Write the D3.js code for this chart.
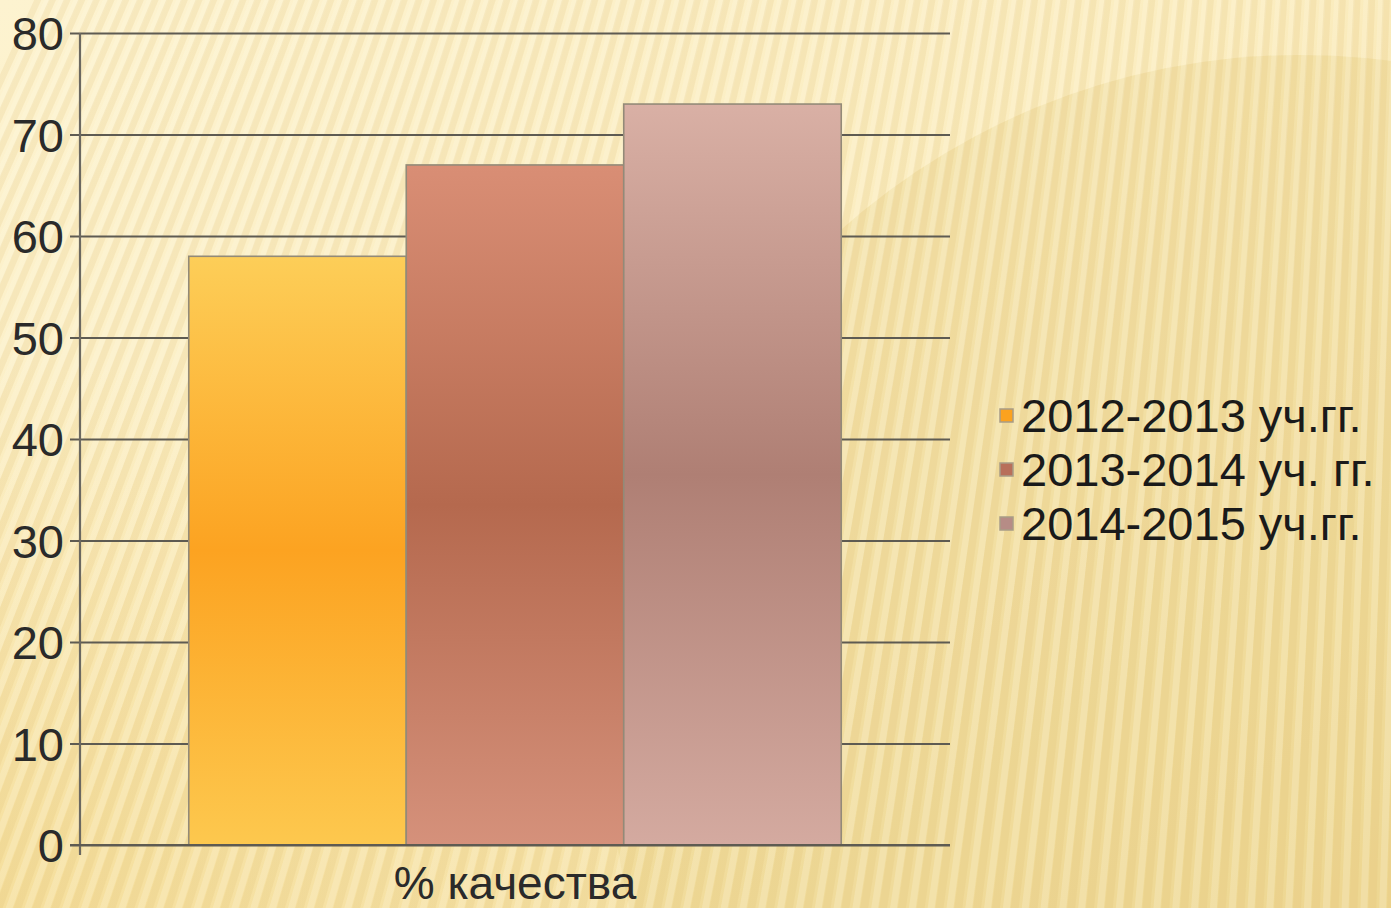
<!DOCTYPE html>
<html><head><meta charset="utf-8">
<script src="https://cdn.jsdelivr.net/npm/d3@7"></script>
<style>html,body{margin:0;padding:0;overflow:hidden;background:#FCEFC6}</style>
</head><body>
<svg id="chart" width="1391" height="908"></svg>
<script>
const categories = ["% качества"];
const seriesNames = ["2012-2013 уч.гг.", "2013-2014 уч. гг.", "2014-2015 уч.гг."];
const seriesValues = [58, 67, 73];
const yTicks = [0, 10, 20, 30, 40, 50, 60, 70, 80];
const seriesColors = [
  ["#FDCE58", "#FCA321", "#FDC84E"],
  ["#D98E75", "#B5694E", "#D5917B"],
  ["#D9B0A5", "#AF7F74", "#D4AAA0"]
];
const legendColors = ["#FBA21F", "#B86F5A", "#B68C86"];

const W = 1391, H = 908;
const svg = d3.select("#chart");
const defs = svg.append("defs");

const bg = defs.append("linearGradient").attr("id","bg").attr("x1",0).attr("y1",0).attr("x2",1).attr("y2",1);
bg.append("stop").attr("offset","0%").attr("stop-color","#FDF3D0");
bg.append("stop").attr("offset","45%").attr("stop-color","#FBEDC0");
bg.append("stop").attr("offset","100%").attr("stop-color","#F1DA97");
svg.append("rect").attr("width",W).attr("height",H).attr("fill","url(#bg)");
const bl = defs.append("radialGradient").attr("id","bl").attr("cx",0).attr("cy",1).attr("r",0.6);
bl.append("stop").attr("offset","0%").attr("stop-color","#F3D98E").attr("stop-opacity",0.7);
bl.append("stop").attr("offset","100%").attr("stop-color","#F3D98E").attr("stop-opacity",0);
svg.append("rect").attr("width",W).attr("height",H).attr("fill","url(#bl)");
svg.append("circle").attr("cx",1300).attr("cy",745).attr("r",690).attr("fill","#E9D088").attr("opacity",0.35);
const fx = 1500, fy = -3200;
const stripeG = svg.append("g");
for (let xb = -400; xb < W + 200; xb += 19) {
  const dx = xb - fx, dy = H + 40 - fy;
  const x0 = fx + dx * ((-40 - fy) / dy);
  stripeG.append("polygon")
    .attr("points", `${x0},-40 ${x0+7},-40 ${xb+8},${H+40} ${xb},${H+40}`)
    .attr("fill", "#D9B96A")
    .attr("opacity", 0.17);
  stripeG.append("polygon")
    .attr("points", `${x0+10},-40 ${x0+16},-40 ${xb+18},${H+40} ${xb+11},${H+40}`)
    .attr("fill", "#FFFBEA")
    .attr("opacity", 0.22);
}

const FONT = "'Liberation Sans', Arial, sans-serif";
const y = d3.scaleLinear().domain([0, 80]).range([845, 33]);
const x0 = d3.scaleBand().domain(categories).range([80, 950]).paddingInner(0).paddingOuter(0.1667);
const x1 = d3.scaleBand().domain(d3.range(seriesNames.length)).range([0, x0.bandwidth()]).padding(0);

svg.append("g").attr("transform","translate(80,0)")
  .call(d3.axisLeft(y).tickValues(yTicks).tickSize(-870).tickPadding(16).tickFormat(d3.format("d")))
  .call(g => g.select(".domain").remove())
  .call(g => g.selectAll(".tick line").attr("stroke","#5E5B52").attr("stroke-width",2.2).attr("x1",-10))
  .call(g => g.selectAll(".tick text").attr("fill","#2a2a2a").attr("font-family",FONT).attr("font-size",47).attr("dy","0.36em"));

svg.append("line").attr("x1",80).attr("x2",80).attr("y1",y(80)).attr("y2",y(0)+10)
  .attr("stroke","#6B6860").attr("stroke-width",2.2);

seriesColors.forEach((c, i) => {
  const g = defs.append("linearGradient").attr("id","bar"+i).attr("x1",0).attr("y1",0).attr("x2",0).attr("y2",1);
  g.append("stop").attr("offset","0%").attr("stop-color",c[0]);
  g.append("stop").attr("offset","50%").attr("stop-color",c[1]);
  g.append("stop").attr("offset","100%").attr("stop-color",c[2]);
});

const grp = svg.append("g").selectAll("g").data(categories).join("g")
  .attr("transform", d => `translate(${x0(d)},0)`);
grp.selectAll("rect").data(seriesValues.map((v,i)=>({v,i}))).join("rect")
  .attr("x", d => x1(d.i))
  .attr("y", d => y(d.v))
  .attr("width", x1.bandwidth())
  .attr("height", d => y(0) - y(d.v))
  .attr("fill", d => `url(#bar${d.i})`)
  .attr("stroke", "#938A78")
  .attr("stroke-width", 1.6);

svg.append("g").attr("transform",`translate(0,${y(0)})`)
  .call(d3.axisBottom(x0).tickSize(0).tickPadding(21))
  .call(g => g.select(".domain").attr("d","M70,0H950").attr("stroke","#5E5B52").attr("stroke-width",2.2))
  .call(g => g.selectAll(".tick text").attr("fill","#2a2a2a").attr("font-family",FONT).attr("font-size",46).attr("dy","0.71em"));

const lg = svg.append("g").attr("transform","translate(1000,415)");
seriesNames.forEach((n,i)=>{
  const row = lg.append("g").attr("transform",`translate(0,${i*54})`);
  row.append("rect").attr("x",0).attr("y",-6).attr("width",13).attr("height",13)
    .attr("fill",legendColors[i]).attr("stroke","#A89C86").attr("stroke-width",1.5);
  row.append("text").attr("x",21).attr("y",0).attr("dy","0.36em")
    .attr("font-family",FONT).attr("font-size",47).attr("fill","#1a1a1a").text(n);
});
</script>
</body></html>
